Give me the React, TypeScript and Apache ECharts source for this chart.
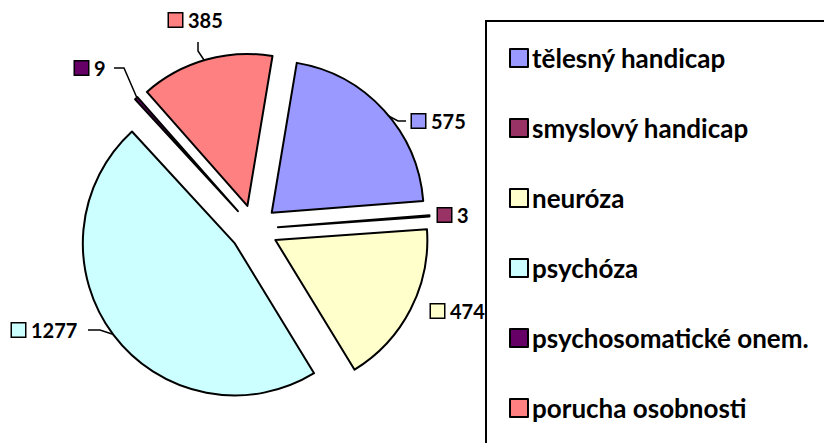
import React, { useEffect, useRef } from "react";
import * as echarts from "echarts";

const categories = [
  "tělesný handicap",
  "smyslový handicap",
  "neuróza",
  "psychóza",
  "psychosomatické onem.",
  "porucha osobnosti",
];
const values = [575, 3, 474, 1277, 9, 385];
const colors = ["#9999FF", "#993366", "#FFFFCC", "#CCFFFF", "#660066", "#FF8080"];

// label placement (left edge of key square, vertical centre) and leader elbows
const labelPos: [number, number][] = [
  [412, 121],
  [438, 215],
  [431, 311],
  [12, 330],
  [75, 68],
  [169, 20],
];
const leaderPts: (number[][] | null)[] = [
  [[383, 113], [398, 121], [406, 121]],
  null,
  null,
  [[115, 335], [100, 330], [88, 330]],
  [[137, 98], [124, 68], [114, 68]],
  [[204, 60], [198, 51], [198, 42]],
];

export default function App() {
  const ref = useRef<HTMLDivElement>(null);
  useEffect(() => {
    if (!ref.current) return;
    const chart = echarts.init(ref.current, null, { renderer: "svg" });
    const font = "Lato, 'Open Sans', sans-serif";
    const sliceData = categories.map((name, i) => ({
      name,
      value: values[i],
      selected: true,
      itemStyle: { color: colors[i] },
    }));
    const labelData = categories.map((name, i) => ({
      name,
      value: values[i],
      label: {
        formatter: "{sq|}{v|{c}}",
        rich: {
          sq: {
            width: 13,
            height: 13,
            backgroundColor: colors[i],
            borderColor: "#000",
            borderWidth: 1.5,
          },
          v: {
            fontFamily: font,
            fontWeight: "bold",
            fontSize: 20,
            color: "#000",
            padding: [0, 0, 0, 6],
          },
        },
      },
      labelLine: { show: leaderPts[i] !== null },
    }));
    chart.setOption({
      animation: false,
      backgroundColor: "#fff",
      graphic: [
        {
          type: "rect",
          z: 50,
          shape: { x: 486, y: 21, width: 400, height: 500 },
          style: { fill: "#fff", stroke: "#000", lineWidth: 2 },
        },
      ],
      legend: {
        z: 60,
        orient: "vertical",
        left: 504,
        top: 40,
        height: 600,
        itemWidth: 18,
        itemHeight: 18,
        itemGap: 44,
        icon: "rect",
        selectedMode: false,
        itemStyle: { borderColor: "#000", borderWidth: 2 },
        textStyle: {
          fontFamily: font,
          fontWeight: "bold",
          fontSize: 26,
          color: "#000",
          lineHeight: 26,
          padding: [0, 0, 0, -1],
        },
        data: categories,
      },
      series: [
        {
          type: "pie",
          center: [254, 229],
          radius: [0, 152],
          startAngle: 80.5,
          clockwise: true,
          selectedMode: "multiple",
          selectedOffset: 24,
          emphasis: { disabled: true },
          itemStyle: { borderColor: "#000", borderWidth: 2 },
          label: { show: false },
          labelLine: { show: false },
          data: sliceData,
        },
        {
          type: "pie",
          silent: true,
          center: [254, 229],
          radius: [0, 152],
          startAngle: 80.5,
          clockwise: true,
          avoidLabelOverlap: false,
          emphasis: { disabled: true },
          itemStyle: { color: "rgba(0,0,0,0)", borderWidth: 0 },
          label: { show: true, position: "outside" },
          labelLine: { show: true, lineStyle: { color: "#000", width: 1.5 } },
          labelLayout: (params: any) => {
            const i = params.dataIndex;
            const res: any = {
              x: labelPos[i][0],
              y: labelPos[i][1],
              align: "left",
              verticalAlign: "middle",
            };
            if (leaderPts[i]) res.labelLinePoints = leaderPts[i];
            return res;
          },
          data: labelData,
        },
      ],
    });
    return () => chart.dispose();
  }, []);
  return (
    <div
      ref={ref}
      style={{ position: "fixed", left: 0, top: 0, width: 824, height: 443 }}
    />
  );
}
